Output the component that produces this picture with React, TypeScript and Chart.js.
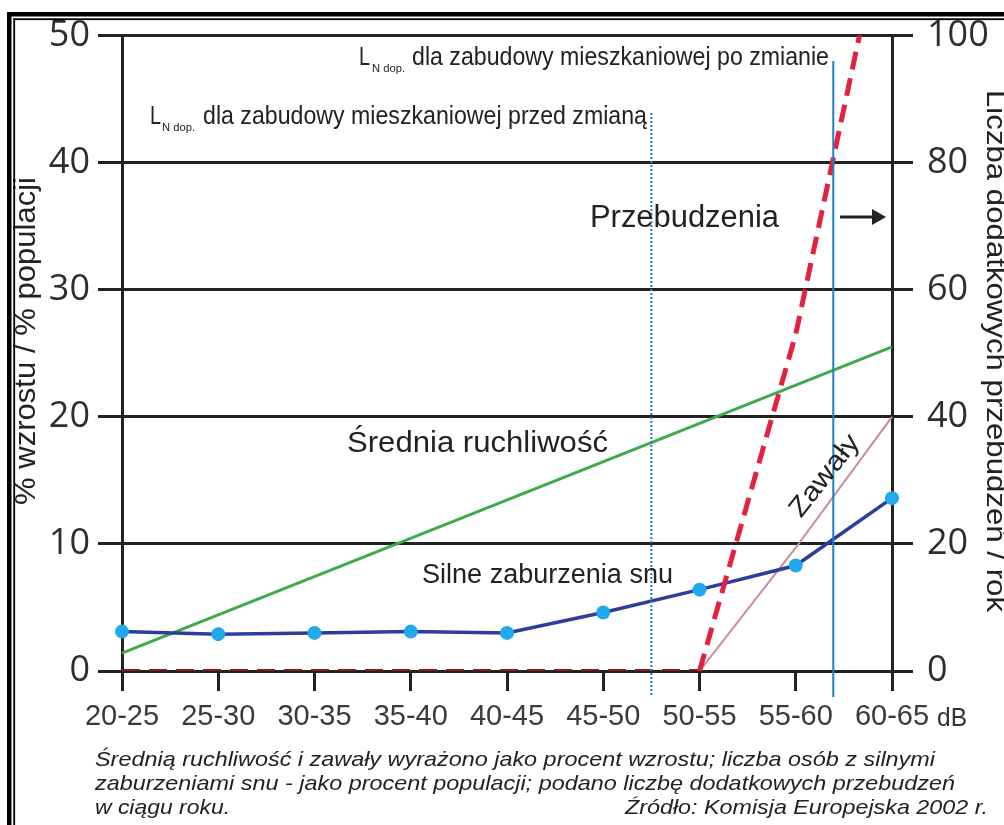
import React, { useEffect, useRef } from 'react';
import { Chart, registerables } from 'chart.js';

Chart.register(...registerables);

// ---- data ----
const categories = ['20-25', '25-30', '30-35', '35-40', '40-45', '45-50', '50-55', '55-60', '60-65'];
const sleepDisturbance = [3.1, 2.9, 3.0, 3.1, 3.0, 4.6, 6.4, 8.3, 13.6];
const averageMobility = [1.4, null, null, null, null, null, null, null, 25.5];
const heartAttacks = [null, null, null, null, null, null, 0, 9.7, 20];
const awakenings = [0, 0, 0, 0, 0, 0, 0, 53, 124];
const leftTicks = [0, 10, 20, 30, 40, 50];
const rightTicks = [0, 20, 40, 60, 80, 100];
const limitBefore = 5.5; // category position of LN dop. before change
const limitAfter = 7.39; // category position of LN dop. after change

const SANS = '"Liberation Sans", Arial, sans-serif';

function fitText(
  ctx: CanvasRenderingContext2D,
  text: string,
  x: number,
  y: number,
  width: number,
  font: string,
  color: string,
  align: CanvasTextAlign = 'left',
  angle = 0,
  baseline: CanvasTextBaseline = 'alphabetic'
) {
  ctx.save();
  ctx.font = font;
  ctx.fillStyle = color;
  ctx.textBaseline = baseline;
  ctx.textAlign = align;
  const w = ctx.measureText(text).width;
  const s = w > 0 ? width / w : 1;
  ctx.translate(x, y);
  ctx.rotate(angle);
  ctx.scale(s, 1);
  ctx.fillText(text, 0, 0);
  ctx.restore();
}

const overlayPlugin = {
  id: 'overlay',
  beforeDraw(chart: any) {
    const ctx = chart.ctx as CanvasRenderingContext2D;
    ctx.save();
    ctx.fillStyle = '#ffffff';
    ctx.fillRect(0, 0, chart.width, chart.height);
    ctx.restore();
  },
  afterDatasetsDraw(chart: any) {
    const ctx = chart.ctx as CanvasRenderingContext2D;
    const xs = chart.scales.x;
    const xb = xs.getPixelForValue(limitBefore);
    const xa = xs.getPixelForValue(limitAfter);
    ctx.save();
    ctx.strokeStyle = '#1f7fc0';
    ctx.lineWidth = 2;
    ctx.setLineDash([2, 2]);
    ctx.beginPath();
    ctx.moveTo(xb, 113);
    ctx.lineTo(xb, 697);
    ctx.stroke();
    ctx.setLineDash([]);
    ctx.strokeStyle = '#1b80c6';
    ctx.lineWidth = 2;
    ctx.beginPath();
    ctx.moveTo(xa, 61);
    ctx.lineTo(xa, 697);
    ctx.stroke();
    ctx.restore();
  },
  afterDraw(chart: any) {
    const ctx = chart.ctx as CanvasRenderingContext2D;
    const dark = '#222222';
    // limit labels
    fitText(ctx, 'L', 359, 65, 11, `25px ${SANS}`, dark);
    fitText(ctx, 'N dop.', 372, 72, 33, `11px ${SANS}`, dark);
    fitText(ctx, 'dla zabudowy mieszkaniowej po zmianie', 412, 65, 417, `25px ${SANS}`, dark);
    fitText(ctx, 'L', 150, 124, 11, `25px ${SANS}`, dark);
    fitText(ctx, 'N dop.', 162, 131, 33, `11px ${SANS}`, dark);
    fitText(ctx, 'dla zabudowy mieszkaniowej przed zmianą', 203, 124, 444, `25px ${SANS}`, dark);
    // series labels
    fitText(ctx, 'Przebudzenia', 590, 227, 189, `31px ${SANS}`, dark);
    fitText(ctx, 'Średnia ruchliwość', 347, 452, 261, `29px ${SANS}`, dark);
    fitText(ctx, 'Silne zaburzenia snu', 422, 583, 251, `27px ${SANS}`, dark);
    fitText(ctx, 'Zawały', 825, 476, 97, `27px ${SANS}`, dark, 'center', (-52 * Math.PI) / 180, 'middle');
    // arrow
    ctx.save();
    ctx.strokeStyle = dark;
    ctx.fillStyle = dark;
    ctx.lineWidth = 3;
    ctx.beginPath();
    ctx.moveTo(840, 217);
    ctx.lineTo(876, 217);
    ctx.stroke();
    ctx.beginPath();
    ctx.moveTo(872, 209);
    ctx.lineTo(886, 217);
    ctx.lineTo(872, 225);
    ctx.closePath();
    ctx.fill();
    ctx.restore();
    // axis titles
    fitText(ctx, '% wzrostu / % populacji', 27, 341, 328, `30px ${SANS}`, dark, 'center', -Math.PI / 2, 'middle');
    fitText(ctx, 'Liczba dodatkowych przebudzeń / rok', 987, 90, 522, `28px ${SANS}`, dark, 'left', Math.PI / 2, 'alphabetic');
    // unit
    fitText(ctx, 'dB', 937, 726, 30, `25px ${SANS}`, '#333333');
    // caption
    const cap = `italic 21px ${SANS}`;
    fitText(ctx, 'Średnią ruchliwość i zawały wyrażono jako procent wzrostu; liczba osób z silnymi', 95, 766, 840, cap, dark);
    fitText(ctx, 'zaburzeniami snu - jako procent populacji; podano liczbę dodatkowych przebudzeń', 95, 790, 860, cap, dark);
    fitText(ctx, 'w ciągu roku.', 95, 814, 135, cap, dark);
    fitText(ctx, 'Źródło: Komisja Europejska 2002 r.', 988, 814, 363, cap, dark, 'right');
    // frame
    ctx.save();
    ctx.fillStyle = '#000000';
    ctx.fillRect(7, 12, chart.width - 7, 4.5);
    ctx.fillRect(7, 12, 4.5, chart.height - 12);
    ctx.fillRect(13.3, 18.3, chart.width - 13.3, 1.8);
    ctx.fillRect(13.3, 18.3, 1.8, chart.height - 18.3);
    ctx.restore();
  },
};

export default function App() {
  const canvasRef = useRef<HTMLCanvasElement | null>(null);

  useEffect(() => {
    if (!canvasRef.current) return;
    const chart = new Chart(canvasRef.current, {
      type: 'line',
      data: {
        labels: categories,
        datasets: [
          {
            label: 'Przebudzenia',
            data: awakenings,
            yAxisID: 'y2',
            borderColor: '#e3223f',
            borderWidth: 5,
            borderDash: [18, 9],
            pointRadius: 0,
            tension: 0,
            clip: 0,
            segment: {
              borderColor: (c: any) => (c.p0.parsed.y === 0 && c.p1.parsed.y === 0 ? '#861d1d' : undefined),
              borderWidth: (c: any) => (c.p0.parsed.y === 0 && c.p1.parsed.y === 0 ? 4 : undefined),
            },
          } as any,
          {
            label: 'Silne zaburzenia snu',
            data: sleepDisturbance,
            yAxisID: 'y',
            borderColor: '#2d3d9a',
            borderWidth: 3.5,
            pointRadius: 7,
            pointBackgroundColor: '#22a9ec',
            pointBorderWidth: 0,
            tension: 0,
            clip: false,
          } as any,
          {
            label: 'Zawały',
            data: heartAttacks,
            yAxisID: 'y',
            borderColor: '#c98a96',
            borderWidth: 2,
            pointRadius: 0,
            tension: 0,
          },
          {
            label: 'Średnia ruchliwość',
            data: averageMobility,
            yAxisID: 'y',
            borderColor: '#3faa4a',
            borderWidth: 3,
            pointRadius: 0,
            spanGaps: true,
            tension: 0,
          },
        ],
      },
      options: {
        responsive: false,
        animation: false,
        devicePixelRatio: 1,
        layout: { padding: { top: 35, left: 0, right: 0, bottom: 0 } },
        plugins: {
          legend: { display: false },
          tooltip: { enabled: false },
        },
        scales: {
          x: {
            type: 'category',
            offset: false,
            grid: { display: true, drawOnChartArea: false, drawTicks: true, tickLength: 20, color: '#222', lineWidth: 3 },
            border: { display: true, color: '#222', width: 3 },
            ticks: {
              font: { family: 'Liberation Sans', size: 29 },
              color: '#3a3a3a',
              padding: 9,
              maxRotation: 0,
              autoSkip: false,
            },
            afterFit: (s: any) => {
              s.height = 154;
            },
          },
          y: {
            position: 'left',
            min: 0,
            max: 50,
            afterBuildTicks: (s: any) => {
              s.ticks = leftTicks.map((v) => ({ value: v }));
            },
            grid: { color: '#222', lineWidth: 3, tickLength: 24, drawOnChartArea: true },
            border: { display: true, color: '#222', width: 3 },
            ticks: { font: { family: 'Open Sans', size: 36 }, color: '#2e2e2e', padding: 8 },
            afterFit: (s: any) => {
              s.width = 122;
            },
          },
          y2: {
            position: 'right',
            min: 0,
            max: 100,
            afterBuildTicks: (s: any) => {
              s.ticks = rightTicks.map((v) => ({ value: v }));
            },
            grid: { color: '#222', lineWidth: 3, tickLength: 21, drawOnChartArea: false },
            border: { display: true, color: '#222', width: 3 },
            ticks: { font: { family: 'Open Sans', size: 36 }, color: '#2e2e2e', padding: 14 },
            afterFit: (s: any) => {
              s.width = 112;
            },
          },
        },
      } as any,
      plugins: [overlayPlugin],
    });
    return () => chart.destroy();
  }, []);

  return (
    <div style={{ position: 'absolute', left: 0, top: 0, width: 1004, height: 825, background: '#fff' }}>
      <canvas ref={canvasRef} width={1004} height={825} style={{ display: 'block' }} />
    </div>
  );
}
